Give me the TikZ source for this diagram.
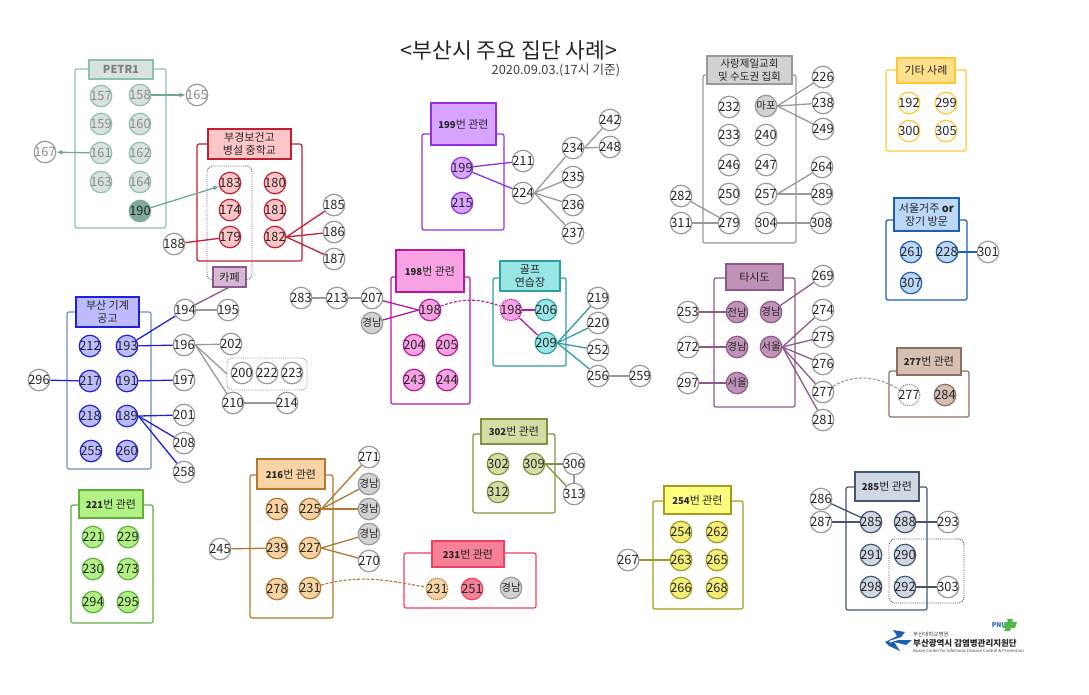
\documentclass[tikz,border=0pt]{standalone}
\usepackage{fontspec}
\setmainfont{Noto Sans CJK KR}
\usetikzlibrary{arrows.meta}
\definecolor{pL}{HTML}{8FBFB0}\definecolor{pF}{HTML}{D8E2DF}\definecolor{pD}{HTML}{7FAA9C}\definecolor{pA}{HTML}{6FA898}
\definecolor{rL}{HTML}{C02030}\definecolor{rF}{HTML}{FFC6C8}
\definecolor{cL}{HTML}{8A5A8A}\definecolor{cF}{HTML}{D6B8D2}
\definecolor{bL}{HTML}{2020D8}\definecolor{bF}{HTML}{BCBCFF}\definecolor{bB}{HTML}{6F8FBF}
\definecolor{mL}{HTML}{B8189E}\definecolor{mF}{HTML}{F7A3E3}
\definecolor{tL}{HTML}{2F9EA0}\definecolor{tF}{HTML}{98E6E6}
\definecolor{vL}{HTML}{9030E0}\definecolor{vF}{HTML}{D8A4FF}
\definecolor{gL}{HTML}{999999}\definecolor{gF}{HTML}{D2D2D2}
\definecolor{yL}{HTML}{FFC832}\definecolor{yF}{HTML}{FFE08C}
\definecolor{sL}{HTML}{1F5FB0}\definecolor{sF}{HTML}{BCD8F8}
\definecolor{uL}{HTML}{8A5A8A}\definecolor{uF}{HTML}{C092B8}
\definecolor{nL}{HTML}{8A7060}\definecolor{nF}{HTML}{D6C0B2}
\definecolor{oL}{HTML}{7E9440}\definecolor{oF}{HTML}{D2DEA4}
\definecolor{eL}{HTML}{60B040}\definecolor{eF}{HTML}{B2F284}
\definecolor{aL}{HTML}{B07830}\definecolor{aF}{HTML}{F8D4A4}
\definecolor{kL}{HTML}{F04060}\definecolor{kF}{HTML}{F58098}
\definecolor{wL}{HTML}{A09C20}\definecolor{wF}{HTML}{FFFF80}\definecolor{wN}{HTML}{F4EE78}
\definecolor{dL}{HTML}{445570}\definecolor{dF}{HTML}{D0D8E4}
\tikzset{
  x=1pt,y=-1pt,
  grp/.style={draw=#1,rounded corners=2pt,line width=1.2pt,fill=none},
  hdr/.style 2 args={draw=#1,fill=#2,line width=1.3pt,align=center,font=\fontsize{11}{13}\selectfont,text=black!85},
  dotbox/.style={draw=#1,densely dotted,rounded corners=6pt,line width=.9pt,fill=none},
  cn/.style 2 args={circle,draw=#1,fill=#2,line width=1.2pt,minimum size=21.5pt,inner sep=0pt,font=\fontsize{12.8}{14}\selectfont,text=black!85},
  ko/.style={font=\fontsize{10.5}{12}\selectfont},
  wh/.style={cn={gL}{white}},
  ln/.style={line width=1.3pt,draw=#1},
  tip/.style={-{Latex[length=6pt,width=5pt]}},
  dsh/.style={line width=1.1pt,draw=#1,dash pattern=on 3pt off 1.6pt},
}
\newcommand\RB[7]{\pgfmathsetmacro\rbw{#4-#2}\pgfmathsetmacro\rbh{#5-#3}\pgfmathsetmacro\rbx{(#2+#4)/2}\pgfmathsetmacro\rby{(#3+#5)/2}%
  \node[#6,minimum width=\rbw pt,minimum height=\rbh pt,inner sep=0pt,outer sep=0pt] (#1) at (\rbx,\rby) {#7};}
\newcommand\N[5]{\node[#5] (#1) at (#2,#3) {\makebox[0pt]{#4}};}
\newcommand\Hn[1]{{\bfseries\fontsize{9.5}{11}\selectfont #1}번 관련}
\begin{document}
\begin{tikzpicture}
\useasboundingbox (0,0) rectangle (1089,694);
\node[font=\fontsize{21.5}{25}\selectfont,text=black!85] (title) at (509,50) {<부산시 주요 집단 사례>};
\node[font=\fontsize{12.8}{15}\selectfont,text=black!75] (date) at (556,70) {2020.09.03.(17시 기준)};
% boxes
\RB{bxP}{75}{69}{166}{228}{grp=pL}{}
\RB{bxR}{197}{144}{302}{261}{grp=rL}{}
\RB{bxB}{67}{312}{151}{469}{grp=bB}{}
\RB{bxM}{391}{277}{470}{404}{grp=mL}{}
\RB{bxT}{493}{278}{566}{366}{grp=tL}{}
\RB{bxV}{422}{134}{504}{230}{grp=vL}{}
\RB{bxG}{703}{75}{796}{243}{grp=gL}{}
\RB{bxY}{886}{70}{966}{151}{grp=yL}{}
\RB{bxS}{886}{220}{967}{300}{grp=sL}{}
\RB{bxU}{714}{278}{795}{407}{grp=uL}{}
\RB{bxN}{889}{371}{969}{417}{grp=nL}{}
\RB{bxO}{473}{434}{555}{513}{grp=oL}{}
\RB{bxE}{71}{505}{153}{623}{grp=eL}{}
\RB{bxA}{250}{475}{333}{618}{grp=aL}{}
\RB{bxK}{404}{553}{536}{608}{grp=kL}{}
\RB{bxW}{653}{501}{743}{609}{grp=wL}{}
\RB{bxD}{846}{487}{927}{610}{grp=dL}{}
% dotted groups
\RB{dtR}{207}{166}{252}{280}{dotbox=cL}{}
\RB{dtG}{227}{358}{307}{390}{dotbox=gL}{}
\RB{dtD}{889}{539}{964}{603}{dotbox=dL}{}
% headers
\RB{hP}{89}{60}{153}{79}{hdr={pL}{pF},text=black!50}{\bfseries PETR1}
\RB{hR}{208}{129}{291}{159}{hdr={rL}{rF}}{부경보건고\\병설 중학교}
\RB{hC}{213}{267}{246}{287}{hdr={cL}{cF}}{카페}
\RB{hB}{76}{297}{139}{327}{hdr={bL}{bF}}{부산 기계\\공고}
\RB{hM}{396}{250}{464}{292}{hdr={mL}{mF}}{\Hn{198}}
\RB{hT}{500}{261}{560}{291}{hdr={tL}{tF}}{골프\\연습장}
\RB{hV}{431}{103}{496}{145}{hdr={vL}{vF}}{\Hn{199}}
\RB{hG}{707}{56}{792}{84}{hdr={gL}{gF},font=\fontsize{10.5}{12.5}\selectfont}{사랑제일교회\\및 수도권 집회}
\RB{hY}{897}{58}{955}{83}{hdr={yL}{yF}}{기타 사례}
\RB{hS}{894}{198}{959}{231}{hdr={sL}{sF}}{서울거주 {\bfseries or}\\장기 방문}
\RB{hU}{726}{264}{783}{290}{hdr={uL}{uF}}{타시도}
\RB{hN}{897}{348}{961}{375}{hdr={nL}{nF}}{\Hn{277}}
\RB{hO}{481}{419}{547}{444}{hdr={oL}{oF}}{\Hn{302}}
\RB{hE}{79}{490}{143}{518}{hdr={eL}{eF}}{\Hn{221}}
\RB{hA}{257}{459}{325}{489}{hdr={aL}{aF}}{\Hn{216}}
\RB{hK}{432}{541}{504}{567}{hdr={kL}{kF}}{\Hn{231}}
\RB{hW}{664}{486}{731}{514}{hdr={wL}{wF}}{\Hn{254}}
\RB{hD}{855}{472}{919}{501}{hdr={dL}{dF}}{\Hn{285}}
% PETR1
\tikzset{pn/.style={cn={pL}{pF},text=black!45}}
\N{n157}{101}{96}{157}{pn}\N{n158}{140}{95}{158}{pn}\N{n159}{101}{124}{159}{pn}\N{n160}{140}{124}{160}{pn}
\N{n161}{101}{153}{161}{pn}\N{n162}{140}{153}{162}{pn}\N{n163}{101}{182}{163}{pn}\N{n164}{140}{182}{164}{pn}
\N{n190}{140}{211}{190}{cn={pD}{pD}}
\N{n165}{197}{95}{165}{wh,text=black!45}\N{n167}{45}{152}{167}{wh,text=black!45}
% red
\tikzset{rn/.style={cn={rL}{rF}}}
\N{n183}{230}{183}{183}{rn}\N{n180}{275}{183}{180}{rn}\N{n174}{230}{210}{174}{rn}\N{n181}{275}{210}{181}{rn}
\N{n179}{230}{237}{179}{rn}\N{n182}{275}{237}{182}{rn}
\N{n188}{174}{244}{188}{wh}\N{n185}{334}{205}{185}{wh}\N{n186}{334}{232}{186}{wh}\N{n187}{334}{259}{187}{wh}
% blue
\tikzset{bn/.style={cn={bL}{bF}}}
\N{n212}{90}{346}{212}{bn}\N{n193}{127}{346}{193}{bn}\N{n217}{90}{381}{217}{bn}\N{n191}{127}{381}{191}{bn}
\N{n218}{90}{416}{218}{bn}\N{n189}{127}{416}{189}{bn}\N{n255}{91}{451}{255}{bn}\N{n260}{127}{451}{260}{bn}
\N{n296}{39}{380}{296}{wh}\N{n194}{185}{310}{194}{wh}\N{n195}{228}{310}{195}{wh}\N{n196}{184}{345}{196}{wh}
\N{n202}{231}{344}{202}{wh}\N{n197}{184}{380}{197}{wh}\N{n201}{184}{415}{201}{wh}\N{n208}{184}{443}{208}{wh}
\N{n258}{184}{472}{258}{wh}\N{n200}{242}{373}{200}{wh}\N{n222}{267}{373}{222}{wh}\N{n223}{292}{373}{223}{wh}
\N{n210}{233}{403}{210}{wh}\N{n214}{287}{403}{214}{wh}
% 198
\tikzset{mn/.style={cn={mL}{mF}}}
\N{n283}{301}{298}{283}{wh}\N{n213}{337}{298}{213}{wh}\N{n207}{372}{298}{207}{wh}
\N{gnM}{372}{323}{경남}{cn={gL}{gF},ko}
\N{n198}{430}{310}{198}{mn}\N{n204}{414}{345}{204}{mn}\N{n205}{447}{345}{205}{mn}\N{n243}{414}{380}{243}{mn}\N{n244}{447}{380}{244}{mn}
% golf
\tikzset{tn/.style={cn={tL}{tF}}}
\N{n198d}{511}{310}{198}{cn={mL}{mF},densely dotted}\N{n206}{546}{310}{206}{tn}\N{n209}{546}{343}{209}{tn}
\N{n219}{598}{298}{219}{wh}\N{n220}{598}{323}{220}{wh}\N{n252}{598}{350}{252}{wh}\N{n256}{598}{376}{256}{wh}\N{n259}{640}{376}{259}{wh}
% 199
\tikzset{vn/.style={cn={vL}{vF}}}
\N{n199}{462}{168}{199}{vn}\N{n215}{462}{203}{215}{vn}\N{n211}{523}{161}{211}{wh}\N{n224}{523}{193}{224}{wh}
\N{n234}{573}{148}{234}{wh}\N{n242}{610}{120}{242}{wh}\N{n248}{610}{147}{248}{wh}\N{n235}{573}{177}{235}{wh}\N{n236}{573}{205}{236}{wh}\N{n237}{573}{233}{237}{wh}
% church
\N{n232}{729}{107}{232}{wh}\N{gnC}{766}{106}{마포}{cn={gL}{gF},ko}\N{n233}{729}{135}{233}{wh}\N{n240}{766}{135}{240}{wh}
\N{n246}{729}{165}{246}{wh}\N{n247}{766}{165}{247}{wh}\N{n250}{729}{194}{250}{wh}\N{n257}{766}{194}{257}{wh}
\N{n279}{729}{223}{279}{wh}\N{n304}{766}{223}{304}{wh}\N{n226}{823}{77}{226}{wh}\N{n238}{823}{103}{238}{wh}
\N{n249}{823}{129}{249}{wh}\N{n264}{822}{167}{264}{wh}\N{n289}{822}{194}{289}{wh}\N{n308}{821}{223}{308}{wh}
\N{n282}{681}{196}{282}{wh}\N{n311}{681}{223}{311}{wh}
% others
\tikzset{yn/.style={cn={yL}{white}}}
\N{n192}{909}{103}{192}{yn}\N{n299}{946}{103}{299}{yn}\N{n300}{909}{131}{300}{yn}\N{n305}{946}{131}{305}{yn}
% seoul
\tikzset{sn/.style={cn={sL}{sF}}}
\N{n261}{911}{252}{261}{sn}\N{n228}{947}{252}{228}{sn}\N{n307}{911}{283}{307}{sn}\N{n301}{988}{252}{301}{wh}
% tasido
\tikzset{un/.style={cn={uL}{uF},ko}}
\N{uA}{737}{312}{전남}{un}\N{uB}{771}{312}{경남}{un}\N{uC}{737}{347}{경남}{un}\N{uD}{771}{347}{서울}{un}\N{uE}{737}{383}{서울}{un}
\N{n253}{688}{312}{253}{wh}\N{n272}{688}{347}{272}{wh}\N{n297}{688}{383}{297}{wh}
\N{n269}{823}{276}{269}{wh}\N{n274}{823}{310}{274}{wh}\N{n275}{823}{337}{275}{wh}\N{n276}{823}{364}{276}{wh}\N{n277}{823}{392}{277}{wh}\N{n281}{823}{420}{281}{wh}
% 277
\N{n277d}{909}{395}{277}{wh,densely dotted}\N{n284}{945}{395}{284}{cn={nL}{nF}}
% 302
\tikzset{on/.style={cn={oL}{oF}}}
\N{n302}{498}{464}{302}{on}\N{n309}{534}{464}{309}{on}\N{n312}{498}{492}{312}{on}\N{n306}{574}{464}{306}{wh}\N{n313}{574}{494}{313}{wh}
% 221
\tikzset{en/.style={cn={eL}{eF}}}
\N{n221}{93}{537}{221}{en}\N{n229}{128}{537}{229}{en}\N{n230}{93}{569}{230}{en}\N{n273}{128}{569}{273}{en}\N{n294}{93}{602}{294}{en}\N{n295}{128}{602}{295}{en}
% 216
\tikzset{an/.style={cn={aL}{aF}}}
\N{n216}{277}{509}{216}{an}\N{n225}{310}{509}{225}{an}\N{n239}{277}{548}{239}{an}\N{n227}{310}{548}{227}{an}\N{n278}{277}{589}{278}{an}\N{n231}{310}{588}{231}{an}
\N{n245}{220}{549}{245}{wh}\N{n271}{369}{457}{271}{wh}\N{gnA}{369}{484}{경남}{cn={gL}{gF},ko}\N{gnB}{369}{509}{경남}{cn={gL}{gF},ko}\N{gnD}{369}{534}{경남}{cn={gL}{gF},ko}\N{n270}{369}{561}{270}{wh}
% 231
\N{n231d}{437}{589}{231}{cn={aL}{aF},densely dotted}\N{n251}{472}{589}{251}{cn={kL}{kF}}\N{gnK}{511}{588}{경남}{cn={gL}{gF},ko}
% 254
\tikzset{wn/.style={cn={wL}{wN}}}
\N{n254}{681}{532}{254}{wn}\N{n262}{717}{532}{262}{wn}\N{n263}{681}{560}{263}{wn}\N{n265}{717}{560}{265}{wn}\N{n266}{681}{588}{266}{wn}\N{n268}{717}{588}{268}{wn}\N{n267}{628}{560}{267}{wh}
% 285
\tikzset{dn/.style={cn={dL}{dF}}}
\N{n285}{871}{522}{285}{dn}\N{n288}{905}{522}{288}{dn}\N{n291}{871}{555}{291}{dn}\N{n290}{905}{555}{290}{dn}\N{n298}{871}{587}{298}{dn}\N{n292}{905}{587}{292}{dn}
\N{n293}{948}{522}{293}{wh}\N{n303}{948}{587}{303}{wh}\N{n286}{821}{499}{286}{wh}\N{n287}{821}{522}{287}{wh}
% connectors
\draw[ln=pA,tip] (n158)--(n165);
\draw[ln=pA,tip] (n161)--(n167);
\draw[ln=pA,tip] (n190)--(n183);
\draw[ln=rL] (n188)--(n179);
\foreach \t in {n185,n186,n187} \draw[ln=rL] (n182.east)--(\t);
\draw[ln=cL] (hC.south)--(n194);
\foreach \a/\b in {n193/n194,n193/n196,n296/n217,n191/n197} \draw[ln=bL] (\a)--(\b);
\foreach \t in {n201,n208,n258} \draw[ln=bL] (n189.east)--(\t);
\foreach \a/\b in {n194/n195,n196/n202,n210/n214} \draw[ln=gL] (\a)--(\b);
\draw[ln=gL] (n196.east)--(dtG.west);
\draw[ln=gL] (n196.east)--(n210);
\foreach \a/\b in {n283/n213,n213/n207,n256/n259} \draw[ln=gL] (\a)--(\b);
\draw[ln=mL] (n207)--(n198.west);
\draw[ln=mL] (gnM)--(n198.west);
\draw[dsh=mL] (n198) to[out=20,in=160] (n198d);
\draw[ln=mL] (n198d)--(n206);
\draw[ln=mL] (n198d)--(n209);
\foreach \t in {n219,n220,n252,n256} \draw[ln=tL] (n209.east)--(\t);
\draw[ln=vL] (n199)--(n211);
\draw[ln=vL] (n199)--(n224);
\foreach \t in {n234,n235,n236,n237} \draw[ln=gL] (n224.east)--(\t);
\foreach \t in {n242,n248} \draw[ln=gL] (n234.east)--(\t);
\foreach \t in {n226,n238,n249} \draw[ln=gL] (gnC.east)--(\t);
\foreach \t in {n264,n289} \draw[ln=gL] (n257.east)--(\t);
\foreach \a/\b in {n304/n308,n282/n279,n311/n279} \draw[ln=gL] (\a)--(\b);
\foreach \a/\b in {n253/uA,n272/uC,n297/uE,uB/n269} \draw[ln=uL] (\a)--(\b);
\foreach \t in {n274,n275,n276,n277,n281} \draw[ln=uL] (uD.east)--(\t);
\draw[dsh=gL] (n277) to[out=30,in=150] (n277d);
\draw[ln=oL] (n309)--(n306);
\draw[ln=oL] (n309.east)--(n313);
\draw[ln=gL] (n306)--(n313);
\foreach \t in {n271,gnA,gnB} \draw[ln=aL] (n225.east)--(\t);
\foreach \t in {gnD,n270} \draw[ln=aL] (n227.east)--(\t);
\draw[ln=aL] (n245)--(n239);
\draw[dsh=aL] (n231) to[out=15,in=170] (n231d);
\draw[ln=wL] (n267)--(n263);
\draw[ln=dL] (n286)--(n285);
\draw[ln=dL] (n287)--(n285);
\draw[ln=dL] (n288)--(n293);
\draw[ln=dL] (n292)--(n303);
\draw[ln=sL] (n228)--(n301);
% logo
\definecolor{lB}{HTML}{1F5FB0}\definecolor{lG}{HTML}{50B848}
\fill[lB] (885,642)--(897,636)--(893,630)--(905,632)--(899,640)--(912,640)--(906,645)--(894,642)--(900,651)--(889,646)--cycle;
\fill[white] (889,641)--(905,636)--(906,637.5)--(890,642.5)--cycle;
\node[font=\fontsize{6.5}{8}\selectfont\bfseries\itshape,text=lB,inner sep=0pt] (pnu) at (999,625) {PNU};
\fill[lG] (1007,619)--(1013,619)--(1012,622)--(1017,622)--(1015,628)--(1011,628)--(1010,631)--(1004,631)--(1006,628)--(1003,628)--(1005,622)--(1008,622)--cycle;
\node[font=\fontsize{5.5}{7}\selectfont,anchor=west,inner sep=0pt,text=black!75] (lg1) at (913,634) {부산대학교병원};
\node[font=\fontsize{8.5}{11}\selectfont\bfseries,anchor=west,inner sep=0pt,text=black!85] (lg2) at (913,643) {부산광역시 감염병관리지원단};
\node[font=\fontsize{4.2}{5}\selectfont,anchor=west,inner sep=0pt,text=black!75] (lg3) at (913,651) {Busan Center for Infectious Disease Control \& Prevention};
\end{tikzpicture}
\end{document}
